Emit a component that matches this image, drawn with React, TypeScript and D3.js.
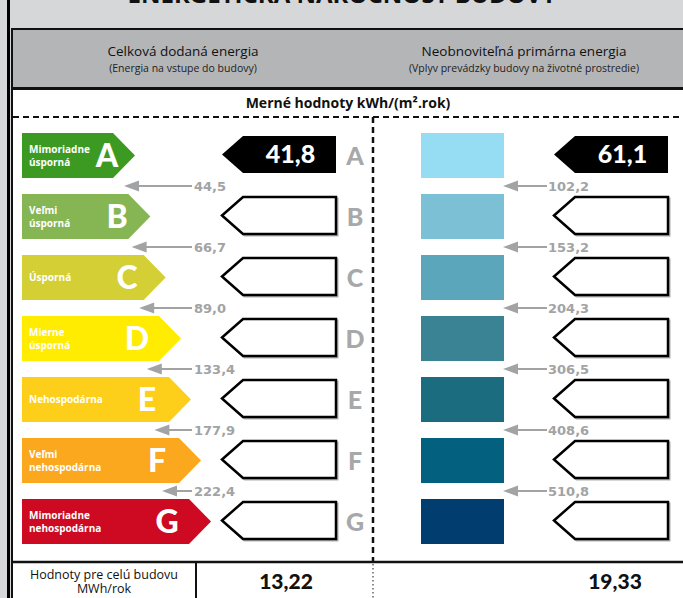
import React, { useRef, useEffect } from 'react';
import * as d3 from 'd3';

// energy classes and their labels
const classes = ['A', 'B', 'C', 'D', 'E', 'F', 'G'];
const classLabels = [
  ['Mimoriadne', 'úsporná'],
  ['Veľmi', 'úsporná'],
  ['Úsporná'],
  ['Mierne', 'úsporná'],
  ['Nehospodárna'],
  ['Veľmi', 'nehospodárna'],
  ['Mimoriadne', 'nehospodárna'],
];
// class limits kWh/(m2.rok)
const deliveredLimits = [44.5, 66.7, 89.0, 133.4, 177.9, 222.4];
const primaryLimits = [102.2, 153.2, 204.3, 306.5, 408.6, 510.8];
// building values
const deliveredValue = 41.8;
const primaryValue = 61.1;
const buildingTotals = [13.22, 19.33];

const classColors = ['#3c9a23', '#86b553', '#d3cf34', '#ffec00', '#fdcf1a', '#fba81e', '#cd0a22'];
const primaryColors = ['#96dcf3', '#7bc0d5', '#5ba6ba', '#3a8395', '#1c6c7f', '#03607f', '#013e6f'];

const FONT = 'Lato, "Noto Sans", sans-serif';
const TEXT_FONT = '"Open Sans", "Noto Sans", sans-serif';
const NUM_FONT = '"DejaVu Sans", sans-serif';

const App = () => {
  const svgRef = useRef<SVGSVGElement>(null);
  const width = 683;
  const height = 598;

  useEffect(() => {
    const svg = d3.select(svgRef.current);
    svg.selectAll('*').remove();

    const locale = d3.formatLocale({ decimal: ',', thousands: ' ', grouping: [3], currency: ['', ''] });
    const f1 = locale.format('.1f');
    const f2 = locale.format('.2f');

    // background
    svg.append('rect').attr('width', width).attr('height', height).attr('fill', '#d6d7d9');

    // title (cut off at the top, as in the source)
    svg
      .append('text')
      .attr('x', 342)
      .attr('y', 3)
      .attr('text-anchor', 'middle')
      .attr('font-family', TEXT_FONT)
      .attr('font-weight', 'bold')
      .attr('font-size', 24)
      .attr('fill', '#111')
      .text('ENERGETICKÁ NÁROČNOSŤ BUDOVY');

    // outer left border
    svg.append('rect').attr('x', 7).attr('y', 0).attr('width', 3).attr('height', height).attr('fill', '#000');

    // header box
    svg
      .append('rect')
      .attr('x', 12)
      .attr('y', 29)
      .attr('width', width)
      .attr('height', 59)
      .attr('fill', '#b4b5b7')
      .attr('stroke', '#111')
      .attr('stroke-width', 2);

    // white body
    svg
      .append('rect')
      .attr('x', 12)
      .attr('y', 89)
      .attr('width', width)
      .attr('height', height)
      .attr('fill', '#fff')
      .attr('stroke', '#111')
      .attr('stroke-width', 2);

    const header = [
      { x: 183, title: 'Celková dodaná energia', sub: '(Energia na vstupe do budovy)' },
      { x: 524, title: 'Neobnoviteľná primárna energia', sub: '(Vplyv prevádzky budovy na životné prostredie)' },
    ];
    header.forEach(h => {
      svg
        .append('text')
        .attr('x', h.x)
        .attr('y', 56)
        .attr('text-anchor', 'middle')
        .attr('font-family', TEXT_FONT)
        .attr('font-size', 13.5)
        .attr('fill', '#111')
        .text(h.title);
      svg
        .append('text')
        .attr('x', h.x)
        .attr('y', 72)
        .attr('text-anchor', 'middle')
        .attr('font-family', TEXT_FONT)
        .attr('font-size', 10.5)
        .attr('fill', '#222')
        .text(h.sub);
    });

    svg
      .append('text')
      .attr('x', 348)
      .attr('y', 108)
      .attr('text-anchor', 'middle')
      .attr('font-family', TEXT_FONT)
      .attr('font-weight', 'bold')
      .attr('font-size', 14)
      .attr('fill', '#111')
      .text('Merné hodnoty kWh/(m²')
      .append('tspan')
      .text('.rok)');

    // dashed separators
    svg
      .append('line')
      .attr('x1', 13)
      .attr('x2', width)
      .attr('y1', 117)
      .attr('y2', 117)
      .attr('stroke', '#111')
      .attr('stroke-width', 2)
      .attr('stroke-dasharray', '6,4');
    svg
      .append('line')
      .attr('x1', 373)
      .attr('x2', 373)
      .attr('y1', 117)
      .attr('y2', 562)
      .attr('stroke', '#111')
      .attr('stroke-width', 2.5)
      .attr('stroke-dasharray', '6,4');

    // scales
    const y = d3
      .scaleBand()
      .domain(classes)
      .range([133, 544])
      .paddingInner(16 / 61)
      .paddingOuter(0);
    const bh = y.bandwidth();
    const gap = y.step() - bh;
    const tipX = d3.scaleLinear().domain([0, 3, 6]).range([135, 181, 211]);
    const letterX = d3.scaleLinear().domain([0, 6]).range([107, 167]);
    const leftArrowX = d3.scaleLinear().domain([0, 5]).range([124, 162]);

    const deliveredIdx = d3.bisectLeft(deliveredLimits, deliveredValue);
    const primaryIdx = d3.bisectLeft(primaryLimits, primaryValue);

    // class bands (left) + colour blocks (right)
    const band = svg.append('g');
    classes.forEach((c, i) => {
      const top = y(c) as number;
      const tip = tipX(i);
      const head = 22;
      band
        .append('path')
        .attr('d', `M22,${top}H${tip - head}L${tip},${top + bh / 2}L${tip - head},${top + bh}H22Z`)
        .attr('fill', classColors[i]);
      const lines = classLabels[i];
      lines.forEach((t, j) => {
        band
          .append('text')
          .attr('x', 29)
          .attr('y', top + bh / 2 + 3.5 + (j - (lines.length - 1) / 2) * 13)
          .attr('font-family', TEXT_FONT)
          .attr('font-weight', 'bold')
          .attr('font-size', 10)
          .attr('fill', '#fff')
          .text(t);
      });
      band
        .append('text')
        .attr('x', letterX(i))
        .attr('y', top + bh / 2 + 11.5)
        .attr('text-anchor', 'middle')
        .attr('font-family', FONT)
        .attr('font-weight', 900)
        .attr('font-size', 32)
        .attr('fill', '#fff')
        .text(c);

      band
        .append('rect')
        .attr('x', 421)
        .attr('y', top)
        .attr('width', 83)
        .attr('height', bh)
        .attr('fill', primaryColors[i]);

      // grey class letters
      band
        .append('text')
        .attr('x', 355)
        .attr('y', top + bh / 2 + 9)
        .attr('text-anchor', 'middle')
        .attr('font-family', FONT)
        .attr('font-weight', 900)
        .attr('font-size', 25)
        .attr('fill', '#a7a8aa')
        .text(c);
    });

    // pointers
    const pointer = (x0: number, x1: number, top: number, h: number) =>
      `M${x0},${top + h / 2}L${x0 + 21},${top}H${x1}V${top + h}H${x0 + 21}Z`;

    const drawPointers = (x0: number, x1: number, selected: number, value: number) => {
      classes.forEach((c, i) => {
        const top = (y(c) as number) + 3;
        const h = 37;
        if (i === selected) {
          svg.append('path').attr('d', pointer(x0, x1, top, h)).attr('fill', '#000');
          svg
            .append('text')
            .attr('x', (x0 + 21 + x1) / 2 + 1)
            .attr('y', top + h / 2 + 8.5)
            .attr('text-anchor', 'middle')
            .attr('font-family', FONT)
            .attr('font-weight', 900)
            .attr('font-size', 25)
            .attr('fill', '#fff')
            .text(f1(value));
        } else {
          svg
            .append('path')
            .attr('d', pointer(x0 + 1.5, x1 + 1.5, top + 1.5, h))
            .attr('fill', 'none')
            .attr('stroke', '#b0b0b0')
            .attr('stroke-width', 2);
          svg
            .append('path')
            .attr('d', pointer(x0, x1, top, h))
            .attr('fill', '#fff')
            .attr('stroke', '#000')
            .attr('stroke-width', 2.5);
        }
      });
    };
    drawPointers(222, 336, deliveredIdx, deliveredValue);
    drawPointers(554, 668, primaryIdx, primaryValue);

    // limit arrows
    const grey = '#a2a3a5';
    const drawLimits = (limits: number[], tipAt: (i: number) => number, lineEnd: number, textX: number) => {
      limits.forEach((v, i) => {
        const cy = (y(classes[i]) as number) + bh + gap / 2;
        const tip = tipAt(i);
        svg
          .append('line')
          .attr('x1', tip + 10)
          .attr('x2', lineEnd)
          .attr('y1', cy)
          .attr('y2', cy)
          .attr('stroke', grey)
          .attr('stroke-width', 2);
        svg
          .append('path')
          .attr('d', `M${tip},${cy}L${tip + 15},${cy - 5.5}V${cy + 5.5}Z`)
          .attr('fill', grey);
        svg
          .append('text')
          .attr('x', textX)
          .attr('y', cy + 5)
          .attr('font-family', NUM_FONT)
          .attr('font-weight', 'bold')
          .attr('font-size', 13)
          .attr('fill', grey)
          .text(f1(v));
      });
    };
    drawLimits(deliveredLimits, i => leftArrowX(i), 192, 194);
    drawLimits(primaryLimits, () => 503, 547, 548);

    // bottom row
    svg
      .append('line')
      .attr('x1', 12)
      .attr('x2', width)
      .attr('y1', 562)
      .attr('y2', 562)
      .attr('stroke', '#111')
      .attr('stroke-width', 2.5);
    svg
      .append('line')
      .attr('x1', 196)
      .attr('x2', 196)
      .attr('y1', 562)
      .attr('y2', height)
      .attr('stroke', '#111')
      .attr('stroke-width', 2);
    svg
      .append('line')
      .attr('x1', 373)
      .attr('x2', 373)
      .attr('y1', 564)
      .attr('y2', height)
      .attr('stroke', '#666')
      .attr('stroke-width', 1.5)
      .attr('stroke-dasharray', '1.5,2.5');

    ['Hodnoty pre celú budovu', 'MWh/rok'].forEach((t, j) => {
      svg
        .append('text')
        .attr('x', 104)
        .attr('y', 579 + j * 14)
        .attr('text-anchor', 'middle')
        .attr('font-family', TEXT_FONT)
        .attr('font-size', 12.5)
        .attr('fill', '#111')
        .text(t);
    });

    [286, 615].forEach((x, i) => {
      svg
        .append('text')
        .attr('x', x)
        .attr('y', 589)
        .attr('text-anchor', 'middle')
        .attr('font-family', FONT)
        .attr('font-weight', 900)
        .attr('font-size', 21)
        .attr('fill', '#111')
        .text(f2(buildingTotals[i]));
    });
  }, []);

  return (
    <svg
      ref={svgRef}
      width={width}
      height={height}
      style={{ position: 'absolute', left: 0, top: 0, display: 'block' }}
    ></svg>
  );
};

export default App;
